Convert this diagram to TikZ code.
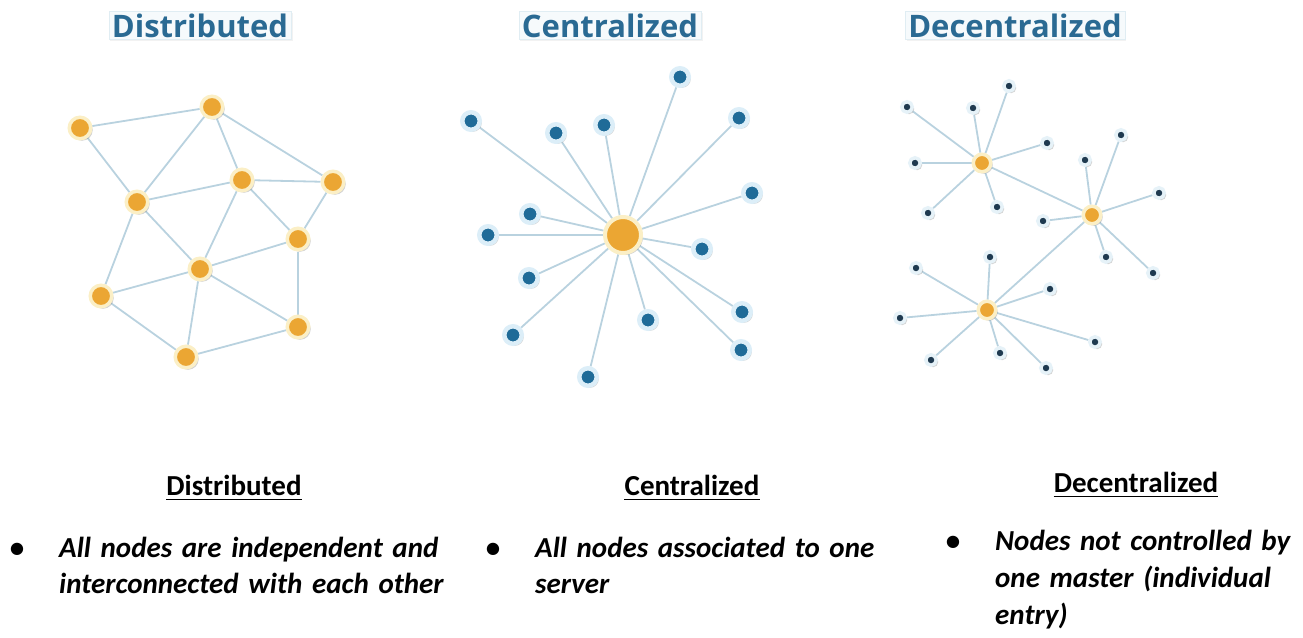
\documentclass[tikz,border=0pt]{standalone}
\usepackage{fontspec}
\newfontfamily\bodyfont{Carlito}
\newfontfamily\titlefont{Open Sans}
\usetikzlibrary{shadows}
\pgfdeclarelayer{links}
\pgfsetlayers{links,main}

\definecolor{linkc}{HTML}{B9D2DF}
\definecolor{hubfill}{HTML}{EBA633}
\definecolor{hubring}{HTML}{FBEFC6}
\definecolor{peerfill}{HTML}{1F6B98}
\definecolor{peerring}{HTML}{DCEEF8}
\definecolor{leaffill}{HTML}{1F3A50}
\definecolor{leafring}{HTML}{E6F2F8}
\definecolor{titleblue}{HTML}{2A6A93}
\definecolor{titlebox}{HTML}{F6FAFC}
\definecolor{titleedge}{HTML}{E0EDF3}

\tikzset{
  x=1pt, y=-1pt,
  softshadow/.style={drop shadow={opacity=0.35, shadow xshift=2pt, shadow yshift=-2pt, fill=black!50}},
  ball/.style 2 args={circle, inner sep=0pt, minimum size=#1, line width=#2, softshadow},
  distnode/.style={ball={21.5pt}{3.5pt}, fill=hubfill, draw=hubring},
  server/.style={ball={36pt}{4pt}, fill=hubfill, draw=hubring},
  peer/.style={ball={17.5pt}{4.5pt}, fill=peerfill, draw=peerring},
  minihub/.style={ball={17.5pt}{3.5pt}, fill=hubfill, draw=hubring},
  leaf/.style={ball={10.5pt}{3.5pt}, fill=leaffill, draw=leafring},
  link/.style={draw=linkc, line width=1.8pt},
  toptitle/.style={font=\titlefont\bfseries\fontsize{31}{36}\selectfont, text=titleblue,
    fill=titlebox, draw=titleedge, line width=0.5pt, inner xsep=3pt, inner ysep=2pt,
    drop shadow={opacity=0.10, shadow xshift=1.5pt, shadow yshift=-1.5pt}},
  heading/.style={font=\bodyfont\bfseries\fontsize{29}{36}\selectfont, inner sep=0pt, anchor=base},
  uline/.style={line width=1.6pt},
  bul/.style={font=\bodyfont\bfseries\fontsize{29}{36}\selectfont, inner sep=0pt, anchor=base},
  body/.style={font=\bodyfont\bfseries\itshape\fontsize{29}{36.5}\selectfont, inner sep=0pt,
    anchor=north west, align=left},
}

\begin{document}
\begin{tikzpicture}
\useasboundingbox (0,0) rectangle (1303,637);

% ---------- titles ----------
\node[toptitle, anchor=base] (tdist) at (200,37) {Distributed};
\node[toptitle, anchor=base] (tcent) at (610,37) {Centralized};
\node[toptitle, anchor=base] (tdec)  at (1015,37) {Decentralized};

% ---------- distributed mesh ----------
\foreach \n/\px/\py in {d1/80/128, d2/212/107, d3/242/180, d4/137/202, d5/333/182,
                        d6/298/239, d7/200/269, d8/101/296, d9/298/327, d10/186/357}
  \node[distnode] (\n) at (\px,\py) {};

\begin{pgfonlayer}{links}
\foreach \a/\b in {d1/d2, d1/d4, d2/d4, d2/d3, d2/d5, d4/d3, d3/d5, d3/d7, d3/d6, d5/d6,
                   d4/d8, d4/d7, d7/d6, d8/d7, d8/d10, d7/d10, d7/d9, d6/d9, d10/d9}
  \draw[link] (\a) -- (\b);
\end{pgfonlayer}

% ---------- centralized star ----------
\node[server] (c0) at (623,235) {};
\foreach \n/\px/\py in {c1/471/121, c2/556/133, c3/604/125, c4/680/77, c5/739/118,
                        c6/752/193, c7/702/249, c8/742/312, c9/741/350, c10/648/320,
                        c11/588/377, c12/513/335, c13/529/278, c14/488/235, c15/530/214}
  \node[peer] (\n) at (\px,\py) {};

\begin{pgfonlayer}{links}
\foreach \n in {c1,c2,c3,c4,c5,c6,c7,c8,c9,c10,c11,c12,c13,c14,c15}
  \draw[link] (c0) -- (\n);
\end{pgfonlayer}

% ---------- decentralized clusters ----------
\node[minihub] (h1) at (982,163) {};
\node[minihub] (h2) at (1092,215) {};
\node[minihub] (h3) at (987,310) {};

\foreach \n/\px/\py in {a1/907/107, a2/973/108, a3/1009/86, a4/1047/143,
                        a5/915/163, a6/928/213, a7/997/207}
  \node[leaf] (\n) at (\px,\py) {};
\foreach \n/\px/\py in {b1/1121/135, b2/1085/160, b3/1159/193, b4/1043/221,
                        b5/1106/257, b6/1153/273}
  \node[leaf] (\n) at (\px,\py) {};
\foreach \n/\px/\py in {e1/990/257, e2/916/268, e3/1050/289, e4/900/318,
                        e5/1095/342, e6/1000/353, e7/931/360, e8/1046/368}
  \node[leaf] (\n) at (\px,\py) {};

\begin{pgfonlayer}{links}
\draw[link] (h1) -- (h2);
\draw[link] (h2) -- (h3);
\foreach \n in {a1,a2,a3,a4,a5,a6,a7} \draw[link] (h1) -- (\n);
\foreach \n in {b1,b2,b3,b4,b5,b6} \draw[link] (h2) -- (\n);
\foreach \n in {e1,e2,e3,e4,e5,e6,e7,e8} \draw[link] (h3) -- (\n);
\end{pgfonlayer}

% ---------- captions ----------
\node[heading] (hdist) at (234,495) {Distributed};
\node[heading] (hcent) at (692,495) {Centralized};
\node[heading] (hdec)  at (1136,492) {Decentralized};
\foreach \h in {hdist,hcent,hdec}
  \draw[uline] ([yshift=-4.5pt]\h.base west) -- ([yshift=-4.5pt]\h.base east);

\node[bul] (b1dot) at (17,557) {•};
\node[bul] (b2dot) at (493,557) {•};
\node[bul] (b3dot) at (953,550) {•};

\node[body, text width=420pt] (tx1) at (59,531.45)
  {\strut All nodes are independent and\\interconnected with each other};
\node[body, text width=400pt] (tx2) at (535,531.45)
  {\strut All nodes associated to one\\server};
\node[body, text width=300pt, font=\bodyfont\bfseries\itshape\fontsize{29}{37}\selectfont] (tx3) at (995,524.1)
  {\strut Nodes not controlled by\\one master (individual\\entry)};
\end{tikzpicture}
\end{document}
